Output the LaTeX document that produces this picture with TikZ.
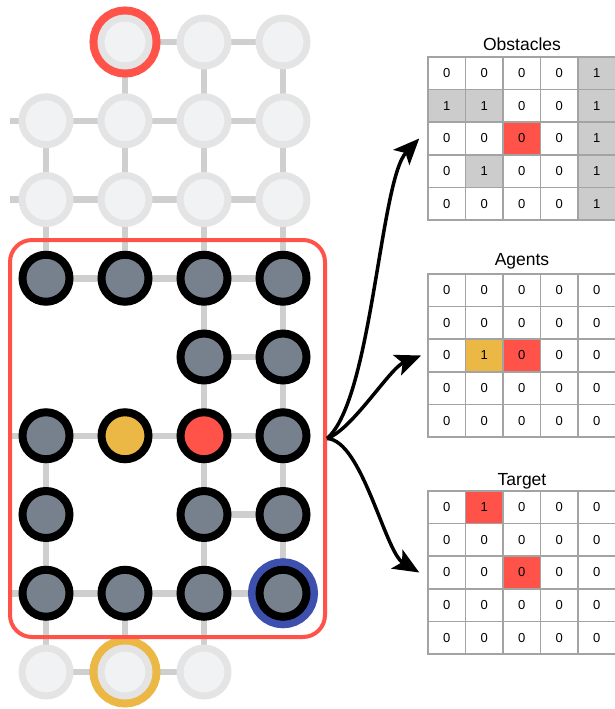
\documentclass[tikz,border=0pt]{standalone}
\usepackage{fontspec}
\setmainfont{Liberation Sans}
\usetikzlibrary{arrows.meta,backgrounds}

\definecolor{hired}{HTML}{FF534A}
\definecolor{agyellow}{HTML}{EBB845}
\definecolor{tgblue}{HTML}{3E50AE}
\definecolor{slate}{HTML}{77818D}
\definecolor{edgegray}{HTML}{CFCFCF}
\definecolor{fadering}{HTML}{E4E4E4}
\definecolor{fadefill}{HTML}{F1F2F3}
\definecolor{tblline}{HTML}{A3A3A3}
\definecolor{obsgray}{HTML}{CCCCCC}

\begin{document}
\begin{tikzpicture}[x=1pt, y=-1pt, >={Stealth[length=26pt,width=22pt,inset=6pt]},
  faded/.style={circle, draw=fadering, fill=fadefill, line width=7pt, minimum size=48pt, inner sep=0pt},
  live/.style={circle, draw=black, fill=slate, line width=8pt, minimum size=47pt, inner sep=0pt},
  ring/.style={preaction={draw=#1, line width=23pt}},
  link/.style={draw=edgegray, line width=6.5pt},
  cell/.style={draw=tblline, line width=1.5pt, minimum width=37.5pt, minimum height=32.6pt, inner sep=0pt, font=\fontsize{13}{15}\selectfont},
  ttl/.style={anchor=base, font=\fontsize{17.5}{20}\selectfont},
  fan/.style={->, line width=3.5pt}]
  \useasboundingbox (0,0) rectangle (615,709);

  % --- grid outside the agent's view ---
  \foreach \r/\c in {0/2,0/3,1/0,1/1,1/2,1/3,2/0,2/1,2/2,2/3,8/0,8/2}
    \node[faded] (n-\r-\c) at ({46+79*\c},{42+78.75*\r}) {};
  \node[faded, ring=hired] (n-0-1) at (125,42) {};
  \node[faded, ring=agyellow] (n-8-1) at (125,672) {};

  % --- cells inside the view ---
  \foreach \r/\c in {3/0,3/1,3/2,3/3,4/2,4/3,5/0,5/3,6/0,6/2,6/3,7/0,7/1,7/2}
    \node[live] (n-\r-\c) at ({46+79*\c},{42+78.75*\r}) {};
  \node[live, fill=agyellow] (n-5-1) at (125,435.75) {};
  \node[live, fill=hired] (n-5-2) at (204,435.75) {};
  \node[live, ring=tgblue] (n-7-3) at (283,593.25) {};

  % --- grid links ---
  \begin{scope}[on background layer]
    \foreach \r/\c [evaluate=\c as \d using int(\c+1)] in
        {0/1,0/2,1/0,1/1,1/2,2/0,2/1,2/2,3/0,3/1,3/2,4/2,5/0,5/1,5/2,6/2,7/0,7/1,7/2,8/0,8/1}
      \draw[link] (n-\r-\c.center) -- (n-\r-\d.center);
    \foreach \r/\c [evaluate=\r as \s using int(\r+1)] in
        {1/0,2/0,5/0,6/0,7/0,0/1,1/1,2/1,7/1,0/2,1/2,2/2,3/2,4/2,5/2,6/2,7/2,0/3,1/3,2/3,3/3,4/3,5/3,6/3}
      \draw[link] (n-\r-\c.center) -- (n-\s-\c.center);
    \foreach \r in {1,2,5,7} {
      \coordinate (s-\r) at (10,{42+78.75*\r});
      \draw[link] (s-\r) -- (n-\r-0.center);
    }
  \end{scope}

  % --- field of view ---
  \node[draw=hired, line width=4pt, rounded corners=22pt, minimum width=315pt, minimum height=397pt] (view) at (167.5,438.5) {};

  % --- observation channels ---
  \node[ttl] (obs-title) at (522,51) {Obstacles};
  \foreach \row [count=\r from 0] in {{0/white,0/white,0/white,0/white,1/obsgray},
      {1/obsgray,1/obsgray,0/white,0/white,1/obsgray},{0/white,0/white,0/hired,0/white,1/obsgray},
      {0/white,1/obsgray,0/white,0/white,1/obsgray},{0/white,0/white,0/white,0/white,1/obsgray}}
    \foreach \v/\f [count=\c from 0] in \row
      \node[cell, fill=\f] (obs-\r-\c) at ({446.75+37.5*\c},{73.3+32.6*\r}) {\v};

  \node[ttl] (agt-title) at (522,265) {Agents};
  \foreach \row [count=\r from 0] in {{0/white,0/white,0/white,0/white,0/white},
      {0/white,0/white,0/white,0/white,0/white},{0/white,1/agyellow,0/hired,0/white,0/white},
      {0/white,0/white,0/white,0/white,0/white},{0/white,0/white,0/white,0/white,0/white}}
    \foreach \v/\f [count=\c from 0] in \row
      \node[cell, fill=\f] (agt-\r-\c) at ({446.75+37.5*\c},{290.3+32.6*\r}) {\v};

  \node[ttl] (tgt-title) at (522,485) {Target};
  \foreach \row [count=\r from 0] in {{0/white,1/hired,0/white,0/white,0/white},
      {0/white,0/white,0/white,0/white,0/white},{0/white,0/white,0/hired,0/white,0/white},
      {0/white,0/white,0/white,0/white,0/white},{0/white,0/white,0/white,0/white,0/white}}
    \foreach \v/\f [count=\c from 0] in \row
      \node[cell, fill=\f] (tgt-\r-\c) at ({446.75+37.5*\c},{507.3+32.6*\r}) {\v};

  \draw[fan] (view.east) .. controls (372,400) and (380,180) .. ([xshift=-8pt]obs-2-0.west);
  \draw[fan] (view.east) .. controls (352,430) and (390,368) .. ([xshift=-6pt]agt-2-0.west);
  \draw[fan] (view.east) .. controls (362,440) and (385,552) .. ([xshift=-8pt]tgt-2-0.west);
\end{tikzpicture}
\end{document}
